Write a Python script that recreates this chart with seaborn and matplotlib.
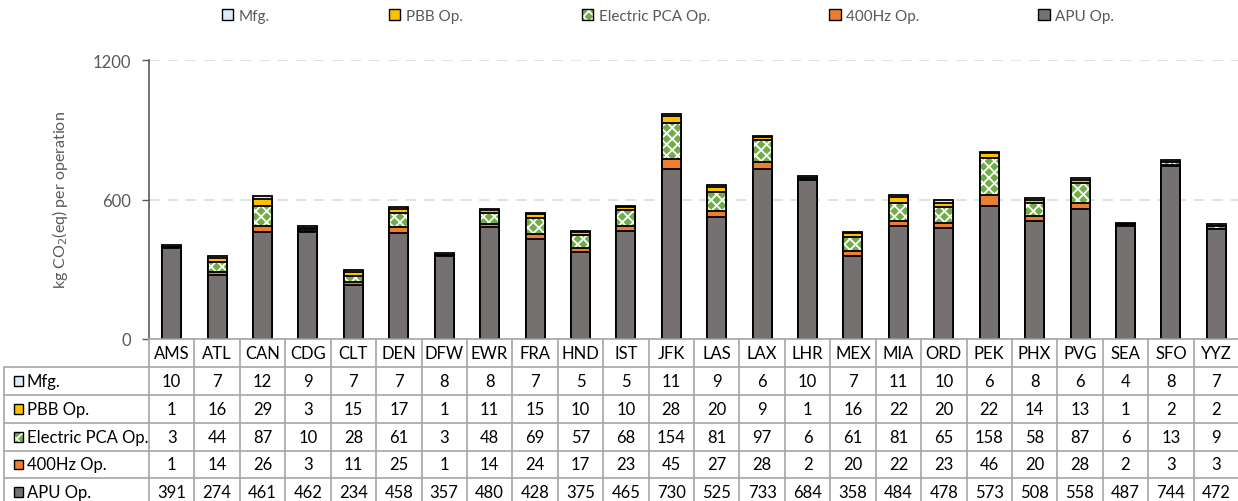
import numpy as np
import pandas as pd
import matplotlib
matplotlib.use("Agg")
import matplotlib.pyplot as plt
from matplotlib.patches import Rectangle
from matplotlib.legend_handler import HandlerTuple
import seaborn as sns

# ---- data -------------------------------------------------------------
airports = ["AMS", "ATL", "CAN", "CDG", "CLT", "DEN", "DFW", "EWR", "FRA", "HND",
            "IST", "JFK", "LAS", "LAX", "LHR", "MEX", "MIA", "ORD", "PEK", "PHX",
            "PVG", "SEA", "SFO", "YYZ"]
mfg = [10, 7, 12, 9, 7, 7, 8, 8, 7, 5, 5, 11, 9, 6, 10, 7, 11, 10, 6, 8, 6, 4, 8, 7]
pbb_op = [1, 16, 29, 3, 15, 17, 1, 11, 15, 10, 10, 28, 20, 9, 1, 16, 22, 20, 22, 14, 13, 1, 2, 2]
pca_op = [3, 44, 87, 10, 28, 61, 3, 48, 69, 57, 68, 154, 81, 97, 6, 61, 81, 65, 158, 58, 87, 6, 13, 9]
hz400_op = [1, 14, 26, 3, 11, 25, 1, 14, 24, 17, 23, 45, 27, 28, 2, 20, 22, 23, 46, 20, 28, 2, 3, 3]
apu_op = [391, 274, 461, 462, 234, 458, 357, 480, 428, 375, 465, 730, 525, 733, 684, 358, 484,
          478, 573, 508, 558, 487, 744, 472]

series_names = ["Mfg.", "PBB Op.", "Electric PCA Op.", "400Hz Op.", "APU Op."]
series_values = [mfg, pbb_op, pca_op, hz400_op, apu_op]
series_colors = ["#DDEBF7", "#FFC000", "#70AD47", "#ED7D31", "#767171"]
series_hatch = [None, None, "xxx", None, None]

# ---- style ------------------------------------------------------------
sns.set_theme(style="white")
plt.rcParams["font.family"] = ["Lato", "DejaVu Sans"]
plt.rcParams["hatch.linewidth"] = 1.3

W, H = 1238, 502
fig = plt.figure(figsize=(W / 100, H / 100), dpi=100)

# pixel layout of the plot area / table
x_left, x_right = 149, 1239
y_top, y_zero = 61, 340
ax = fig.add_axes([x_left / W, (H - y_zero) / H, (x_right - x_left) / W, (y_zero - y_top) / H])

df = pd.DataFrame({"airport": airports})
stack_order = list(range(len(series_names)))[::-1]  # APU at bottom ... Mfg on top
cum = np.zeros(len(airports))
cums = {}
for i in stack_order:
    cum = cum + np.array(series_values[i])
    cums[i] = cum.copy()

bar_w = 0.42
edge_lw = 1.3
# draw cumulative heights from the top segment down so lower segments overlay
for i in range(len(series_names)):
    df["h"] = cums[i]
    if series_hatch[i]:
        sns.barplot(data=df, x="airport", y="h", order=airports, color=series_colors[i],
                    saturation=1, width=bar_w, errorbar=None, edgecolor="white",
                    linewidth=0, hatch=series_hatch[i], ax=ax)
        sns.barplot(data=df, x="airport", y="h", order=airports, color="black", fill=False,
                    width=bar_w, errorbar=None, linewidth=edge_lw, ax=ax)
    else:
        sns.barplot(data=df, x="airport", y="h", order=airports, color=series_colors[i],
                    saturation=1, width=bar_w, errorbar=None, edgecolor="black",
                    linewidth=edge_lw, ax=ax)

ax.set_xlim(-0.5, len(airports) - 0.5)
ax.set_ylim(0, 1200)
ax.set_yticks([0, 600, 1200])
ax.set_xticks([])
ax.set_xlabel("")
ax.set_ylabel("kg CO$_2$(eq) per operation", color="#595959", fontsize=11.5, labelpad=16)
ax.tick_params(axis="y", left=True, length=5, width=1, color="#595959",
               labelsize=12, labelcolor="#595959", pad=8)
ax.yaxis.grid(True, color="#D9D9D9", linestyle=(0, (7, 5)), linewidth=1.1)
ax.set_axisbelow(True)
for s in ["top", "right", "bottom"]:
    ax.spines[s].set_visible(False)
ax.spines["left"].set_color("#595959")
ax.spines["left"].set_linewidth(1.2)
ax.patch.set_alpha(0)


def swatch(x, y, w, h, i):
    """Filled square (white hatch where the series has one) with a black outline."""
    fill = Rectangle((x, y), w, h, facecolor=series_colors[i],
                     edgecolor="white" if series_hatch[i] else "none", lw=0,
                     hatch=series_hatch[i])
    outline = Rectangle((x, y), w, h, facecolor="none", edgecolor="black", lw=1.0)
    return fill, outline


# ---- data table beneath the bars --------------------------------------
col_w = (x_right - x_left) / len(airports)
label_w = (x_left - 4) / col_w
tax = fig.add_axes([0, 0, 1, (H - y_zero) / H])
tax.set_xlim(-0.5 - x_left / col_w, -0.5 + (W - x_left) / col_w)
tax.set_ylim(H, y_zero)
tax.axis("off")

row_edges = [340, 368, 396, 424, 452, 479, 507]
grid_c = "#A6A6A6"
lx0 = -0.5 - label_w
nx = len(airports)
# horizontal rules
tax.plot([-0.5, nx - 0.5], [row_edges[0]] * 2, color=grid_c, lw=1.2, clip_on=False)
for y in row_edges[1:]:
    tax.plot([lx0, nx - 0.5], [y, y], color=grid_c, lw=1.2, clip_on=False)
# vertical rules
for k in range(nx + 1):
    tax.plot([k - 0.5] * 2, [row_edges[0], row_edges[-1]], color=grid_c, lw=1.2, clip_on=False)
tax.plot([lx0] * 2, [row_edges[1], row_edges[-1]], color=grid_c, lw=1.2, clip_on=False)

fs = 12
hy = (row_edges[0] + row_edges[1]) / 2
for k, name in enumerate(airports):
    tax.text(k, hy, name, ha="center", va="center", fontsize=fs, color="black")

for r in range(len(series_names)):
    yc = (row_edges[r + 1] + row_edges[r + 2]) / 2
    for p in swatch(lx0 + 10 / col_w, yc - 4.75, 9.5 / col_w, 9.5, r):
        tax.add_patch(p)
    tax.text(lx0 + 23 / col_w, yc, series_names[r], ha="left", va="center",
             fontsize=fs, color="black")
    for k in range(nx):
        tax.text(k, yc, str(series_values[r][k]), ha="center", va="center",
                 fontsize=fs, color="black")

# ---- legend -----------------------------------------------------------
handles = [swatch(0, 0, 1, 1, i) for i in range(len(series_names))]
leg = fig.legend(handles, series_names, loc="center", bbox_to_anchor=(668 / W, 1 - 17 / H),
                 ncol=5, frameon=False, fontsize=11, handlelength=0.75, handleheight=0.75,
                 handletextpad=0.35, columnspacing=7.8, borderpad=0,
                 handler_map={tuple: HandlerTuple(ndivide=1, pad=0)})
for t in leg.get_texts():
    t.set_color("#595959")

fig.savefig("out.png", dpi=100)
